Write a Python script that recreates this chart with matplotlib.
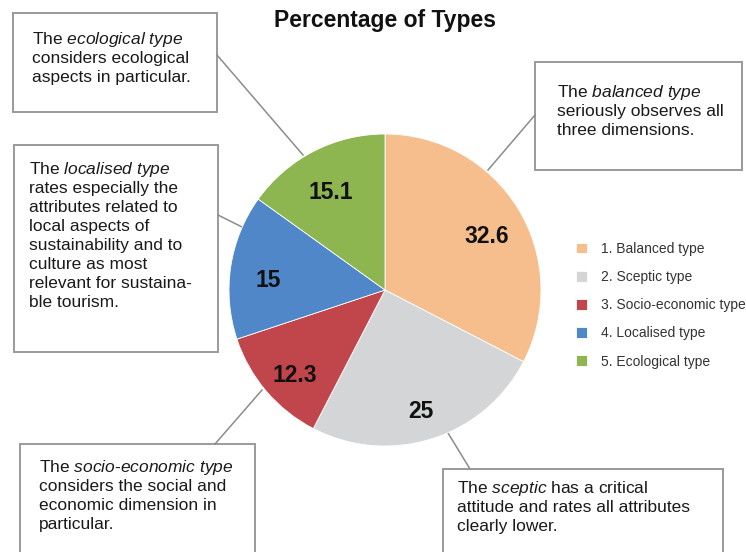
import matplotlib.pyplot as plt
import numpy as np
from matplotlib.patches import Rectangle

plt.rcParams['font.family'] = ['Liberation Sans', 'DejaVu Sans']
plt.rcParams['mathtext.fontset'] = 'custom'
plt.rcParams['mathtext.rm'] = 'Liberation Sans'
plt.rcParams['mathtext.it'] = 'Liberation Sans:italic'

# data
types = ['1. Balanced type', '2. Sceptic type', '3. Socio-economic type',
         '4. Localised type', '5. Ecological type']
shares = [32.6, 25, 12.3, 15, 15.1]
share_labels = ['32.6', '25', '12.3', '15', '15.1']
colors = ['#F7BE8D', '#D4D5D7', '#C1464B', '#4F87C8', '#8DB650']

notes = {
    'eco': ['The $\\mathit{ecological\\ type}$', 'considers ecological',
            'aspects in particular.'],
    'loc': ['The $\\mathit{localised\\ type}$', 'rates especially the',
            'attributes related to', 'local aspects of',
            'sustainability and to', 'culture as most',
            'relevant for sustaina-', 'ble tourism.'],
    'bal': ['The $\\mathit{balanced\\ type}$', 'seriously observes all',
            'three dimensions.'],
    'soc': ['The $\\mathit{socio}$-$\\mathit{economic\\ type}$',
            'considers the social and', 'economic dimension in',
            'particular.'],
    'sce': ['The $\\mathit{sceptic}$ has a critical',
            'attitude and rates all attributes', 'clearly lower.'],
}

# layout in pixels (box x0, y0, x1, y1), text start, first baseline, connector line
boxes = {
    'eco': ((13, 13, 217, 112), (32, 44), ((217, 55), (303, 155))),
    'loc': ((14, 145, 218, 352), (29, 174), ((218, 215), (242, 227))),
    'bal': ((535, 62, 742, 170), (557, 97), ((535, 115), (488, 170))),
    'soc': ((20, 444, 255, 560), (39, 472), ((215, 444), (262, 390))),
    'sce': ((443, 469, 723, 560), (457, 493), ((470, 469), (448, 433))),
}

W, H = 746, 552
fig = plt.figure(figsize=(W / 100, H / 100), dpi=100)

ov = fig.add_axes([0, 0, 1, 1])
ov.set_xlim(0, W)
ov.set_ylim(H, 0)
ov.axis('off')

for key, (box, txt, line) in boxes.items():
    x0, y0, x1, y1 = box
    ov.add_patch(Rectangle((x0, y0), x1 - x0, y1 - y0, facecolor='white',
                           edgecolor='#9a9a9a', lw=1.4))
    ov.plot([line[0][0], line[1][0]], [line[0][1], line[1][1]],
            color='#8c8c8c', lw=1.1)
    for i, s in enumerate(notes[key]):
        ov.text(txt[0], txt[1] + i * 19, s, fontsize=12.5, color='#1a1a1a',
                va='baseline', ha='left')

ov.text(385, 21, 'Percentage of Types', fontsize=16.5, fontweight='bold',
        ha='center', va='center', color='#111111')

# pie
cx, cy, r = 385, 290, 156
ax = fig.add_axes([(cx - r) / W, (H - cy - r) / H, 2 * r / W, 2 * r / H])
wedges, _ = ax.pie(shares, colors=colors, startangle=90, counterclock=False,
                   wedgeprops=dict(edgecolor='white', linewidth=0.6))
ax.set_xlim(-1, 1)
ax.set_ylim(-1, 1)
ax.set_aspect('equal')
ax.axis('off')

cum = np.cumsum([0] + shares)
for i, lab in enumerate(share_labels):
    mid = np.deg2rad(90 - (cum[i] + shares[i] / 2) * 3.6)
    ax.annotate(lab, (0.76 * np.cos(mid), 0.76 * np.sin(mid)),
                xytext=(0, -4), textcoords='offset points', fontsize=16.5,
                fontweight='bold', ha='center', va='center_baseline',
                color='#111111')

fig.legend(wedges, types, loc='upper left', bbox_to_anchor=(569 / W, 1 - 235 / H),
           frameon=False, fontsize=10, handlelength=0.8, handleheight=0.8,
           handletextpad=1.0, labelspacing=1.02, borderpad=0, labelcolor='#333333')

fig.savefig('out.png', dpi=100)
